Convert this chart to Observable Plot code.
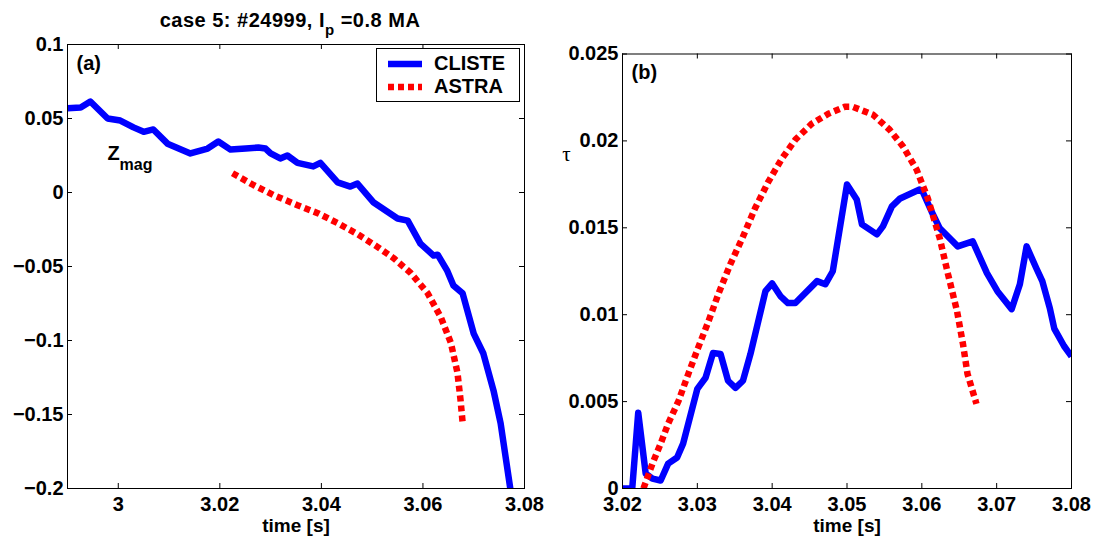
<!DOCTYPE html>
<html>
<head>
<meta charset="utf-8">
<script src="https://cdn.jsdelivr.net/npm/d3@7"></script>
<script src="https://cdn.jsdelivr.net/npm/@observablehq/plot@0.6"></script>
<style>
  body { margin: 0; background: #fff; }
  #wrap { position: relative; width: 1096px; height: 543px; overflow: hidden; background: #fff;
          font-family: "Liberation Sans", Arial, Helvetica, sans-serif; font-weight: bold; color: #000; }
  #left, #right { position: absolute; top: 0; }
  #left { left: 0; }
  #right { left: 548px; }
  #title { position: absolute; left: 40px; width: 500px; top: 10px; text-align: center;
           font-size: 20px; line-height: 20px; white-space: nowrap; letter-spacing: 0.5px; }
  #title .sub { font-size: 15px; position: relative; top: 8px; }
  #legend { position: absolute; left: 376px; top: 48px; width: 144px; height: 54px; box-sizing: border-box;
            border: 1px solid #000; background: #fff; }
  #legend svg { position: absolute; left: -1px; top: -1px; }
</style>
</head>
<body>
<div id="wrap">
  <div id="left"></div>
  <div id="right"></div>
  <div id="title">case 5: #24999, I<span class="sub">p</span> =0.8 MA</div>
  <div id="legend"></div>
</div>
<script>
// ---------- data ----------
const seriesNames = ["CLISTE", "ASTRA"];
const seriesColors = ["#0000ff", "#ff0000"];

// panel (a): Z_mag vs time
const aClisteT = [2.9900, 2.9926, 2.9945, 2.9979, 3.0004, 3.0030, 3.0050, 3.0069, 3.0097, 3.0142, 3.0176, 3.0197, 3.0221, 3.0251, 3.0276, 3.0290, 3.0300, 3.0319, 3.0333, 3.0353, 3.0384, 3.0398, 3.0432, 3.0457, 3.0471, 3.0503, 3.0550, 3.0570, 3.0595, 3.0621, 3.0629, 3.0648, 3.0660, 3.0678, 3.0700, 3.0719, 3.0739, 3.0753, 3.0772];
const aClisteZ = [0.0570, 0.0575, 0.0615, 0.0500, 0.0486, 0.0440, 0.0410, 0.0426, 0.0330, 0.0264, 0.0297, 0.0345, 0.0290, 0.0297, 0.0304, 0.0297, 0.0264, 0.0230, 0.0250, 0.0200, 0.0176, 0.0200, 0.0068, 0.0040, 0.0060, -0.0068, -0.0176, -0.0190, -0.0345, -0.0426, -0.0420, -0.0530, -0.0628, -0.0680, -0.0953, -0.1088, -0.1338, -0.1560, -0.2000];
const aAstraT = [3.0225, 3.0267, 3.0306, 3.0353, 3.0393, 3.0432, 3.0471, 3.0511, 3.0542, 3.0576, 3.0609, 3.0635, 3.0655, 3.0668, 3.0674, 3.0678];
const aAstraZ = [0.0130, 0.0049, -0.0018, -0.0086, -0.0140, -0.0207, -0.0281, -0.0369, -0.0443, -0.0544, -0.0679, -0.0841, -0.1016, -0.1218, -0.1401, -0.1549];

// panel (b): tau vs time
const bClisteT = [3.0200, 3.0213, 3.0221, 3.0231, 3.0240, 3.0251, 3.0261, 3.0273, 3.0281, 3.0300, 3.0311, 3.0321, 3.0331, 3.0341, 3.0351, 3.0361, 3.0371, 3.0391, 3.0400, 3.0411, 3.0421, 3.0431, 3.0460, 3.0471, 3.0481, 3.0500, 3.0513, 3.0520, 3.0540, 3.0548, 3.0560, 3.0571, 3.0597, 3.0601, 3.0613, 3.0624, 3.0648, 3.0668, 3.0687, 3.0701, 3.0720, 3.0731, 3.0740, 3.0753, 3.0761, 3.0771, 3.0777, 3.0790, 3.0800];
const bClisteTau = [0, 0, 0.00436, 0.00086, 0.00057, 0.00046, 0.00143, 0.00178, 0.00258, 0.00573, 0.00637, 0.00780, 0.00774, 0.00620, 0.00579, 0.00620, 0.00774, 0.01135, 0.01180, 0.01107, 0.01067, 0.01067, 0.01193, 0.01175, 0.01250, 0.01749, 0.01663, 0.01520, 0.01462, 0.01508, 0.01623, 0.01669, 0.01720, 0.01709, 0.01594, 0.01497, 0.01393, 0.01422, 0.01239, 0.01135, 0.01032, 0.01175, 0.01393, 0.01267, 0.01193, 0.01038, 0.00920, 0.00820, 0.00760];
const bAstraT = [3.0228, 3.0240, 3.0251, 3.0261, 3.0275, 3.0288, 3.0301, 3.0315, 3.0328, 3.0344, 3.0360, 3.0377, 3.0395, 3.0413, 3.0431, 3.0453, 3.0475, 3.0497, 3.0508, 3.0535, 3.0557, 3.0575, 3.0593, 3.0608, 3.0624, 3.0635, 3.0647, 3.0655, 3.0661, 3.0673];
const bAstraTau = [0, 0.00143, 0.00258, 0.00373, 0.00505, 0.00660, 0.00809, 0.00963, 0.01118, 0.01290, 0.01439, 0.01611, 0.01766, 0.01898, 0.02007, 0.02099, 0.02156, 0.02196, 0.02196, 0.02150, 0.02064, 0.01967, 0.01835, 0.01669, 0.01439, 0.01233, 0.01021, 0.00831, 0.00660, 0.00487];

// ticks and labels
const aXTicks = [3.00, 3.02, 3.04, 3.06, 3.08];
const aXLabels = ["3", "3.02", "3.04", "3.06", "3.08"];
const aYTicks = [0.1, 0.05, 0, -0.05, -0.1, -0.15, -0.2];
const aYLabels = ["0.1", "0.05", "0", "\u22120.05", "\u22120.1", "\u22120.15", "\u22120.2"];
const bXTicks = [3.02, 3.03, 3.04, 3.05, 3.06, 3.07, 3.08];
const bXLabels = ["3.02", "3.03", "3.04", "3.05", "3.06", "3.07", "3.08"];
const bYTicks = [0, 0.005, 0.01, 0.015, 0.02, 0.025];
const bYLabels = ["0", "0.005", "0.01", "0.015", "0.02", "0.025"];

// ---------- drawing ----------
const FONT = '"Liberation Sans", Arial, Helvetica, sans-serif';
const W = 548, H = 543;
const rows = (T, V) => T.map((t, i) => ({t, v: V[i]}));

function panel({xDomain, yDomain, xTicks, xLabels, yTicks, yLabels, mt, ml, mr, mb, clisteRows, astraRows, extras}) {
  const fw = W - ml - mr, fh = H - mt - mb;
  const xl = new Map(xTicks.map((d, i) => [d, xLabels[i]]));
  const yl = new Map(yTicks.map((d, i) => [d, yLabels[i]]));
  return Plot.plot({
    width: W, height: H,
    marginTop: mt, marginLeft: ml, marginRight: mr, marginBottom: mb,
    style: {fontFamily: FONT, fontSize: "20px", fontWeight: "bold", color: "black", background: "white", overflow: "visible"},
    x: {domain: xDomain},
    y: {domain: yDomain},
    marks: [
      Plot.line(clisteRows, {x: "t", y: "v", stroke: seriesColors[0], strokeWidth: 6.5, strokeLinejoin: "round", strokeLinecap: "butt", clip: true}),
      Plot.line(astraRows, {x: "t", y: "v", stroke: seriesColors[1], strokeWidth: 6.5, strokeDasharray: "6,4", strokeLinecap: "butt", strokeLinejoin: "miter", clip: true}),
      Plot.frame({stroke: "black", strokeWidth: 1}),
      Plot.tickX(xTicks, {x: d => d, insetTop: fh - 5, stroke: "black"}),
      Plot.tickX(xTicks, {x: d => d, insetBottom: fh - 5, stroke: "black"}),
      Plot.tickY(yTicks, {y: d => d, insetRight: fw - 5, stroke: "black"}),
      Plot.tickY(yTicks, {y: d => d, insetLeft: fw - 5, stroke: "black"}),
      Plot.axisX({ticks: xTicks, tickSize: 0, tickPadding: 8, tickFormat: d => xl.get(d), label: null}),
      Plot.axisY({ticks: yTicks, tickSize: 0, tickPadding: 4, tickFormat: d => yl.get(d), label: null}),
      Plot.text(["time [s]"], {frameAnchor: "bottom", dy: 43, lineAnchor: "bottom", fontSize: 19, text: d => d}),
      ...extras
    ]
  });
}

const left = panel({
  xDomain: [2.99, 3.08], yDomain: [-0.2, 0.1],
  xTicks: aXTicks, xLabels: aXLabels, yTicks: aYTicks, yLabels: aYLabels,
  mt: 44, ml: 67, mr: 24, mb: 55,
  clisteRows: rows(aClisteT, aClisteZ), astraRows: rows(aAstraT, aAstraZ),
  extras: [
    Plot.text(["(a)"], {frameAnchor: "top-left", dx: 9, dy: 25, textAnchor: "start", lineAnchor: "bottom", text: d => d}),
    Plot.text(["Z"], {frameAnchor: "top-left", dx: 40, dy: 115, textAnchor: "start", lineAnchor: "bottom", text: d => d}),
    Plot.text(["mag"], {frameAnchor: "top-left", dx: 52, dy: 125, textAnchor: "start", lineAnchor: "bottom", fontSize: 16, text: d => d})
  ]
});
document.getElementById("left").appendChild(left);

const right = panel({
  xDomain: [3.02, 3.08], yDomain: [0, 0.025],
  xTicks: bXTicks, xLabels: bXLabels, yTicks: bYTicks, yLabels: bYLabels,
  mt: 53.5, ml: 74, mr: 25, mb: 55,
  clisteRows: rows(bClisteT, bClisteTau), astraRows: rows(bAstraT, bAstraTau),
  extras: [
    Plot.text(["(b)"], {frameAnchor: "top-left", dx: 9, dy: 25, textAnchor: "start", lineAnchor: "bottom", text: d => d}),
    Plot.text(["\u03c4"], {frameAnchor: "top-left", dx: -56, dy: 107, textAnchor: "middle", lineAnchor: "bottom",
      fontFamily: '"Liberation Serif", "DejaVu Serif", serif', fontWeight: "normal", fontSize: 21, text: d => d})
  ]
});
document.getElementById("right").appendChild(right);

// ---------- legend ----------
const legend = d3.select("#legend").append("svg").attr("width", 144).attr("height", 54)
  .style("font-family", FONT).style("font-weight", "bold").style("font-size", "20px");
seriesNames.forEach((name, i) => {
  const y = 16 + i * 23;
  legend.append("line").attr("x1", 12).attr("x2", 46).attr("y1", y).attr("y2", y)
    .attr("stroke", seriesColors[i]).attr("stroke-width", 6.5)
    .attr("stroke-dasharray", i === 1 ? "6,4" : null);
  legend.append("text").attr("x", 58).attr("y", y + 5.5).text(name);
});
</script>
</body>
</html>
